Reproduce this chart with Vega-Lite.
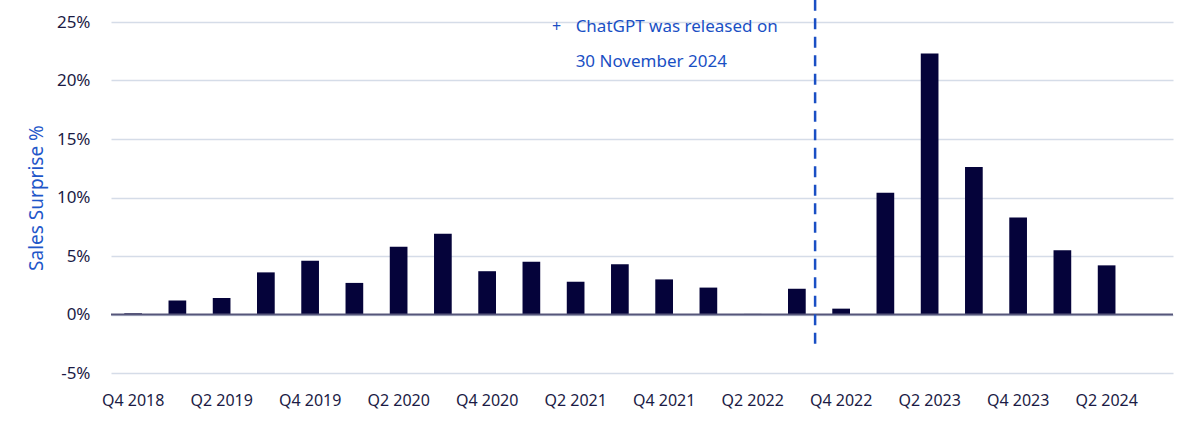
{
  "$schema": "https://vega.github.io/schema/vega-lite/v6.json",
  "width": 1062,
  "height": 351,
  "autosize": {"type": "none"},
  "padding": {"left": 111, "top": 22, "right": 27, "bottom": 52},
  "background": "white",
  "config": {"view": {"stroke": null}, "font": "Noto Sans"},
  "datasets": {
    "surprise": [
      {"quarter": "Q4 2018", "value": 0.1},
      {"quarter": "Q1 2019", "value": 1.2},
      {"quarter": "Q2 2019", "value": 1.4},
      {"quarter": "Q3 2019", "value": 3.6},
      {"quarter": "Q4 2019", "value": 4.6},
      {"quarter": "Q1 2020", "value": 2.7},
      {"quarter": "Q2 2020", "value": 5.8},
      {"quarter": "Q3 2020", "value": 6.9},
      {"quarter": "Q4 2020", "value": 3.7},
      {"quarter": "Q1 2021", "value": 4.5},
      {"quarter": "Q2 2021", "value": 2.8},
      {"quarter": "Q3 2021", "value": 4.3},
      {"quarter": "Q4 2021", "value": 3.0},
      {"quarter": "Q1 2022", "value": 2.3},
      {"quarter": "Q2 2022", "value": 0.05},
      {"quarter": "Q3 2022", "value": 2.2},
      {"quarter": "Q4 2022", "value": 0.5},
      {"quarter": "Q1 2023", "value": 10.4},
      {"quarter": "Q2 2023", "value": 22.3},
      {"quarter": "Q3 2023", "value": 12.6},
      {"quarter": "Q4 2023", "value": 8.3},
      {"quarter": "Q1 2024", "value": 5.5},
      {"quarter": "Q2 2024", "value": 4.2}
    ],
    "marker": [{"quarter": "Q3 2022", "value": -2.5, "top": 26.9}],
    "notes": [
      {"quarter": "Q2 2021", "value": 24.55, "text": "ChatGPT was released on"},
      {"quarter": "Q2 2021", "value": 21.55, "text": "30 November 2024"}
    ],
    "bullet": [{"quarter": "Q2 2021", "value": 24.55, "text": "+"}],
    "zero": [{"value": 0}]
  },
  "encoding": {
    "y": {
      "field": "value",
      "type": "quantitative",
      "scale": {"domain": [-5, 25], "nice": false, "zero": false},
      "axis": {
        "values": [-5, 0, 5, 10, 15, 20, 25],
        "labelExpr": "datum.value + '%'",
        "grid": true,
        "gridColor": "#d5dce8",
        "gridWidth": 1.5,
        "domain": false,
        "ticks": false,
        "labelPadding": 21,
        "labelFontSize": 17,
        "labelColor": "#1b1b45",
        "title": "Sales Surprise %",
        "titleColor": "#1f57c9",
        "titleFontSize": 19,
        "titleFontWeight": "normal",
        "titleX": -75,
        "titleBaseline": "middle"
      }
    }
  },
  "layer": [
    {
      "data": {"name": "surprise"},
      "mark": {"type": "bar", "color": "#05033a"},
      "encoding": {
        "x": {
          "field": "quarter",
          "type": "ordinal",
          "sort": null,
          "scale": {
            "domain": ["Q4 2018", "Q1 2019", "Q2 2019", "Q3 2019", "Q4 2019", "Q1 2020", "Q2 2020", "Q3 2020", "Q4 2020", "Q1 2021", "Q2 2021", "Q3 2021", "Q4 2021", "Q1 2022", "Q2 2022", "Q3 2022", "Q4 2022", "Q1 2023", "Q2 2023", "Q3 2023", "Q4 2023", "Q1 2024", "Q2 2024", "Q3 2024"],
            "paddingInner": 0.6,
            "paddingOuter": 0.3
          },
          "axis": {
            "title": null,
            "values": ["Q4 2018", "Q2 2019", "Q4 2019", "Q2 2020", "Q4 2020", "Q2 2021", "Q4 2021", "Q2 2022", "Q4 2022", "Q2 2023", "Q4 2023", "Q2 2024"],
            "domain": false,
            "ticks": false,
            "labelAngle": 0,
            "labelPadding": 19,
            "labelFontSize": 16,
            "labelColor": "#1b1b45"
          }
        }
      }
    },
    {
      "data": {"name": "zero"},
      "mark": {"type": "rule", "color": "#56567a", "strokeWidth": 2}
    },
    {
      "data": {"name": "marker"},
      "mark": {"type": "rule", "color": "#1a4fc4", "strokeWidth": 2.5, "strokeDash": [11, 7.5]},
      "encoding": {
        "x": {"field": "quarter", "type": "ordinal", "bandPosition": 1.53},
        "y2": {"field": "top"}
      }
    },
    {
      "data": {"name": "notes"},
      "mark": {"type": "text", "align": "left", "baseline": "middle", "fontSize": 17, "color": "#1a4fc4"},
      "encoding": {
        "x": {"field": "quarter", "type": "ordinal", "bandPosition": 0.5},
        "text": {"field": "text"}
      }
    },
    {
      "data": {"name": "bullet"},
      "mark": {"type": "text", "align": "center", "baseline": "middle", "fontSize": 16, "color": "#1a4fc4", "dx": -19},
      "encoding": {
        "x": {"field": "quarter", "type": "ordinal", "bandPosition": 0.5},
        "text": {"field": "text"}
      }
    }
  ]
}
